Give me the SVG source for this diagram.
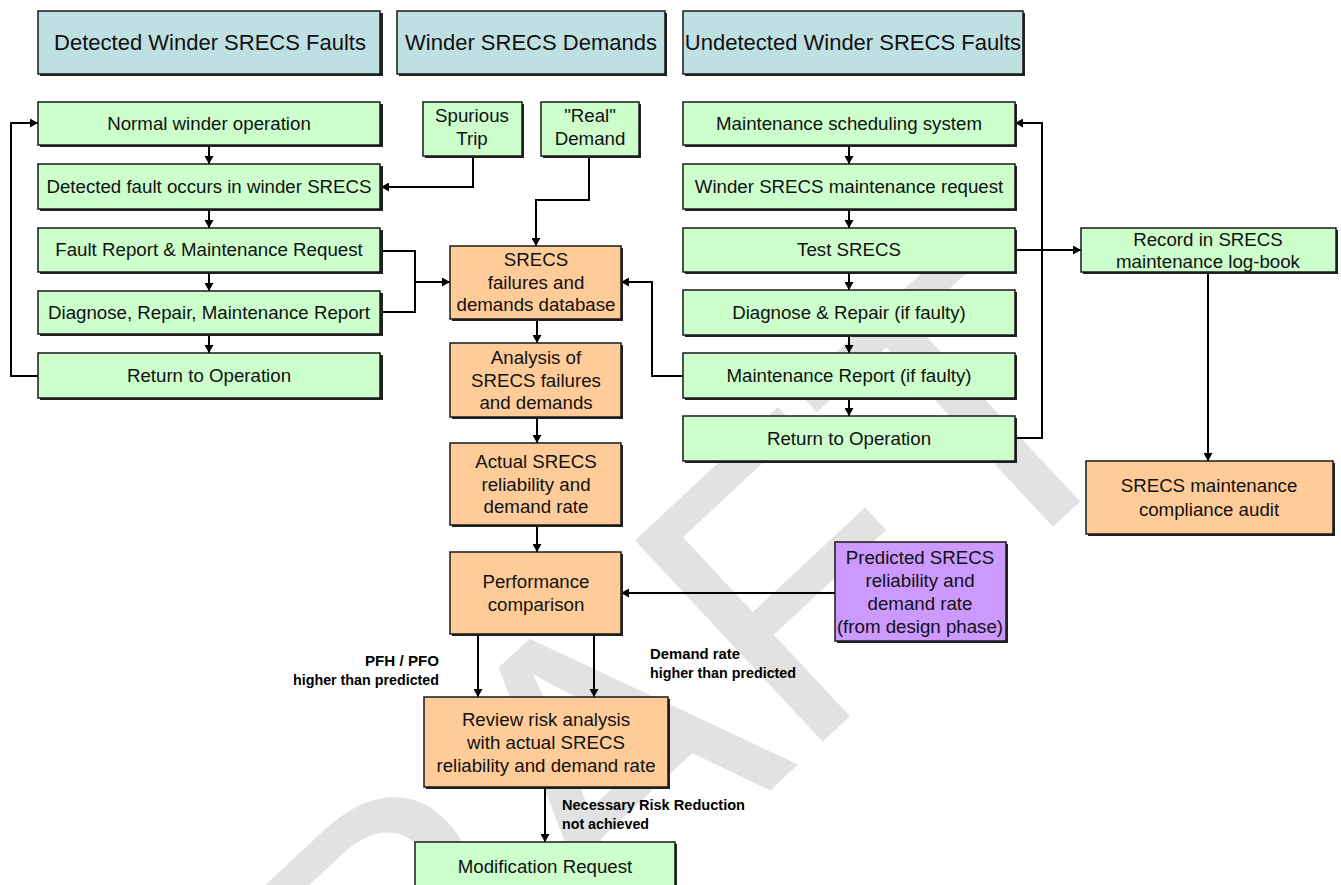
<svg xmlns="http://www.w3.org/2000/svg" width="1341" height="885" viewBox="0 0 1341 885">
  <defs>
    <style>
      .hdr { fill: #bfe0e2; stroke: #1a1a1a; stroke-width: 1.5; }
      .grn { fill: #ccffcc; stroke: #1a1a1a; stroke-width: 1.5; }
      .pch { fill: #ffcc99; stroke: #1a1a1a; stroke-width: 1.5; }
      .prp { fill: #cc99ff; stroke: #1a1a1a; stroke-width: 1.5; }
      .shd { fill: #222; }
      text { font-family: "Liberation Sans", Arial, sans-serif; fill: #111; }
      .t { font-size: 18.7px; text-anchor: middle; }
      .h { font-size: 22px; text-anchor: middle; }
      .lbl { font-family: "Liberation Sans Narrow", "Liberation Sans", sans-serif; font-size: 14px; font-weight: bold; fill: #000; }
      .wire { fill: none; stroke: #000; stroke-width: 2; }
      .wm { font-family: "Liberation Sans", Arial, sans-serif; font-size: 400px; fill: #e2e2e2; }
    </style>
    <marker id="arr" markerUnits="userSpaceOnUse" markerWidth="9" markerHeight="9" refX="8" refY="4.5" orient="auto">
      <path d="M0,0 L8,4.5 L0,9 z" fill="#000"/>
    </marker>
  </defs>

  <rect width="1341" height="885" fill="#ffffff"/>

  <!-- background watermark -->
  <text class="wm" transform="translate(181,1340) rotate(-43)">DRAFT</text>

  <!-- column headers -->
  <g id="hdr-detected">
    <rect class="shd" x="40" y="13" width="343" height="63"/>
    <rect class="hdr" x="38" y="11" width="342" height="63"/>
    <text class="h" x="210" y="50">Detected Winder SRECS Faults</text>
  </g>
  <g id="hdr-demands">
    <rect class="shd" x="399" y="13" width="268" height="63"/>
    <rect class="hdr" x="397" y="11" width="268" height="63"/>
    <text class="h" x="531" y="50">Winder SRECS Demands</text>
  </g>
  <g id="hdr-undetected">
    <rect class="shd" x="685" y="13" width="340" height="63"/>
    <rect class="hdr" x="683" y="11" width="340" height="63"/>
    <text class="h" x="853" y="50">Undetected Winder SRECS Faults</text>
  </g>

  <!-- connectors -->
  <g id="connectors">
    <path class="wire" d="M209,145 V164" marker-end="url(#arr)"/>
    <path class="wire" d="M209,209 V228" marker-end="url(#arr)"/>
    <path class="wire" d="M209,272 V291" marker-end="url(#arr)"/>
    <path class="wire" d="M209,334 V353" marker-end="url(#arr)"/>
    <path class="wire" d="M38,376 H11 V123 H38" marker-end="url(#arr)"/>
    <path class="wire" d="M473,156 V187 H381" marker-end="url(#arr)"/>
    <path class="wire" d="M589,156 V200 H536 V246" marker-end="url(#arr)"/>
    <path class="wire" d="M381,251 H415 V312 H381"/>
    <path class="wire" d="M415,282 H450" marker-end="url(#arr)"/>
    <path class="wire" d="M683,376 H652 V282 H621" marker-end="url(#arr)"/>
    <path class="wire" d="M537,319 V343" marker-end="url(#arr)"/>
    <path class="wire" d="M537,417 V443" marker-end="url(#arr)"/>
    <path class="wire" d="M537,525 V552" marker-end="url(#arr)"/>
    <path class="wire" d="M835,593 H621" marker-end="url(#arr)"/>
    <path class="wire" d="M478,634 V697" marker-end="url(#arr)"/>
    <path class="wire" d="M594,634 V697" marker-end="url(#arr)"/>
    <path class="wire" d="M545,787 V842" marker-end="url(#arr)"/>
    <path class="wire" d="M849,145 V164" marker-end="url(#arr)"/>
    <path class="wire" d="M849,209 V228" marker-end="url(#arr)"/>
    <path class="wire" d="M849,272 V290" marker-end="url(#arr)"/>
    <path class="wire" d="M849,335 V353" marker-end="url(#arr)"/>
    <path class="wire" d="M849,398 V416" marker-end="url(#arr)"/>
    <path class="wire" d="M1015,438 H1042 V123 H1015" marker-end="url(#arr)"/>
    <path class="wire" d="M1015,250 H1081" marker-end="url(#arr)"/>
    <path class="wire" d="M1208,272 V461" marker-end="url(#arr)"/>
  </g>

  <!-- connector labels -->
  <g id="labels">
    <text class="lbl" x="439" y="666" text-anchor="end" textLength="74" lengthAdjust="spacingAndGlyphs">PFH / PFO</text>
    <text class="lbl" x="439" y="685" text-anchor="end" textLength="146" lengthAdjust="spacingAndGlyphs">higher than predicted</text>
    <text class="lbl" x="650" y="659" textLength="90" lengthAdjust="spacingAndGlyphs">Demand rate</text>
    <text class="lbl" x="650" y="678" textLength="146" lengthAdjust="spacingAndGlyphs">higher than predicted</text>
    <text class="lbl" x="562" y="810" textLength="183" lengthAdjust="spacingAndGlyphs">Necessary Risk Reduction</text>
    <text class="lbl" x="562" y="829" textLength="87" lengthAdjust="spacingAndGlyphs">not achieved</text>
  </g>

  <!-- detected faults column -->
  <g id="normal-op">
    <rect class="shd" x="40" y="104" width="343" height="43"/>
    <rect class="grn" x="38" y="102" width="342" height="43"/>
    <text class="t" x="209" y="130">Normal winder operation</text>
  </g>
  <g id="detected-fault">
    <rect class="shd" x="40" y="166" width="343" height="45"/>
    <rect class="grn" x="38" y="164" width="342" height="45"/>
    <text class="t" x="209" y="193">Detected fault occurs in winder SRECS</text>
  </g>
  <g id="fault-report">
    <rect class="shd" x="40" y="230" width="343" height="44"/>
    <rect class="grn" x="38" y="228" width="342" height="44"/>
    <text class="t" x="209" y="256">Fault Report &amp; Maintenance Request</text>
  </g>
  <g id="diagnose-repair">
    <rect class="shd" x="40" y="293" width="343" height="43"/>
    <rect class="grn" x="38" y="291" width="342" height="43"/>
    <text class="t" x="209" y="319">Diagnose, Repair, Maintenance Report</text>
  </g>
  <g id="return-left">
    <rect class="shd" x="40" y="355" width="343" height="45"/>
    <rect class="grn" x="38" y="353" width="342" height="45"/>
    <text class="t" x="209" y="382">Return to Operation</text>
  </g>

  <!-- demands column -->
  <g id="spurious-trip">
    <rect class="shd" x="425" y="104" width="99" height="54"/>
    <rect class="grn" x="423" y="102" width="99" height="54"/>
    <text class="t" x="472" y="122">Spurious</text>
    <text class="t" x="472" y="145">Trip</text>
  </g>
  <g id="real-demand">
    <rect class="shd" x="543" y="104" width="98" height="54"/>
    <rect class="grn" x="541" y="102" width="98" height="54"/>
    <text class="t" x="590" y="122">"Real"</text>
    <text class="t" x="590" y="145">Demand</text>
  </g>
  <g id="database">
    <rect class="shd" x="452" y="248" width="171" height="73"/>
    <rect class="pch" x="450" y="246" width="171" height="73"/>
    <text class="t" x="536" y="266">SRECS</text>
    <text class="t" x="536" y="289">failures and</text>
    <text class="t" x="536" y="311">demands database</text>
  </g>
  <g id="analysis">
    <rect class="shd" x="452" y="345" width="171" height="74"/>
    <rect class="pch" x="450" y="343" width="171" height="74"/>
    <text class="t" x="536" y="364">Analysis of</text>
    <text class="t" x="536" y="387">SRECS failures</text>
    <text class="t" x="536" y="409">and demands</text>
  </g>
  <g id="actual-reliability">
    <rect class="shd" x="452" y="445" width="171" height="82"/>
    <rect class="pch" x="450" y="443" width="171" height="82"/>
    <text class="t" x="536" y="468">Actual SRECS</text>
    <text class="t" x="536" y="491">reliability and</text>
    <text class="t" x="536" y="513">demand rate</text>
  </g>
  <g id="performance">
    <rect class="shd" x="452" y="554" width="171" height="82"/>
    <rect class="pch" x="450" y="552" width="171" height="82"/>
    <text class="t" x="536" y="588">Performance</text>
    <text class="t" x="536" y="611">comparison</text>
  </g>
  <g id="predicted">
    <rect class="shd" x="837" y="544" width="171" height="99"/>
    <rect class="prp" x="835" y="542" width="171" height="99"/>
    <text class="t" x="920" y="564">Predicted SRECS</text>
    <text class="t" x="920" y="587">reliability and</text>
    <text class="t" x="920" y="610">demand rate</text>
    <text class="t" x="920" y="633">(from design phase)</text>
  </g>
  <g id="review-risk">
    <rect class="shd" x="426" y="699" width="244" height="90"/>
    <rect class="pch" x="424" y="697" width="244" height="90"/>
    <text class="t" x="546" y="726">Review risk analysis</text>
    <text class="t" x="546" y="749">with actual SRECS</text>
    <text class="t" x="546" y="772">reliability and demand rate</text>
  </g>
  <g id="modification">
    <rect class="shd" x="417" y="844" width="260" height="50"/>
    <rect class="grn" x="415" y="842" width="260" height="50"/>
    <text class="t" x="545" y="873">Modification Request</text>
  </g>

  <!-- undetected faults column -->
  <g id="maint-schedule">
    <rect class="shd" x="685" y="104" width="332" height="43"/>
    <rect class="grn" x="683" y="102" width="332" height="43"/>
    <text class="t" x="849" y="130">Maintenance scheduling system</text>
  </g>
  <g id="maint-request">
    <rect class="shd" x="685" y="166" width="332" height="45"/>
    <rect class="grn" x="683" y="164" width="332" height="45"/>
    <text class="t" x="849" y="193">Winder SRECS maintenance request</text>
  </g>
  <g id="test-srecs">
    <rect class="shd" x="685" y="230" width="332" height="44"/>
    <rect class="grn" x="683" y="228" width="332" height="44"/>
    <text class="t" x="849" y="256">Test SRECS</text>
  </g>
  <g id="diagnose-if-faulty">
    <rect class="shd" x="685" y="292" width="332" height="45"/>
    <rect class="grn" x="683" y="290" width="332" height="45"/>
    <text class="t" x="849" y="319">Diagnose &amp; Repair (if faulty)</text>
  </g>
  <g id="report-if-faulty">
    <rect class="shd" x="685" y="355" width="332" height="45"/>
    <rect class="grn" x="683" y="353" width="332" height="45"/>
    <text class="t" x="849" y="382">Maintenance Report (if faulty)</text>
  </g>
  <g id="return-right">
    <rect class="shd" x="685" y="418" width="332" height="45"/>
    <rect class="grn" x="683" y="416" width="332" height="45"/>
    <text class="t" x="849" y="445">Return to Operation</text>
  </g>
  <g id="log-book">
    <rect class="shd" x="1083" y="230" width="255" height="44"/>
    <rect class="grn" x="1081" y="228" width="255" height="44"/>
    <text class="t" x="1208" y="246">Record in SRECS</text>
    <text class="t" x="1208" y="268">maintenance log-book</text>
  </g>
  <g id="compliance-audit">
    <rect class="shd" x="1088" y="463" width="247" height="73"/>
    <rect class="pch" x="1086" y="461" width="247" height="73"/>
    <text class="t" x="1209" y="492">SRECS maintenance</text>
    <text class="t" x="1209" y="516">compliance audit</text>
  </g>
</svg>
